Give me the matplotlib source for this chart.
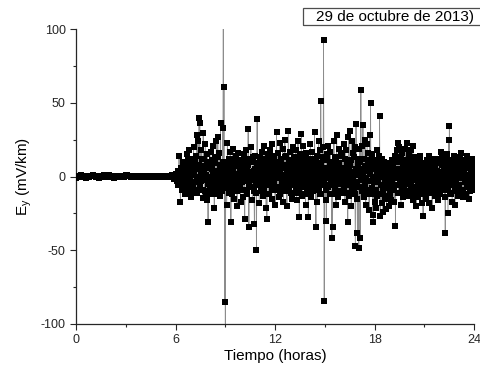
import numpy as np
import matplotlib
matplotlib.use("Agg")
import matplotlib.pyplot as plt
from matplotlib.patches import Rectangle
from matplotlib.ticker import MultipleLocator

plt.rcParams['font.family'] = ['Liberation Sans', 'DejaVu Sans']
plt.rcParams['axes.unicode_minus'] = False

# quiet interval 0-6 h, one sample every 0.1 h
quiet_ey = [-1.2, 0.4, -0.6, 0.8, -0.3, 0.5, -0.9, 0.2, -0.5, 0.7,
            1.1, 0.3, -0.4, 0.6, -0.8, 0.2, -0.2, 0.9, -0.6, 0.4,
            0.8, -0.3, 0.5, -0.7, 0.1, -0.4, 0.6, -0.2, 0.3, -0.6,
            0.9, 1.3, 0.4, -0.3, 0.2, -0.5, 0.3, -0.1, 0.5, -0.4,
            0.2, -0.6, 0.4, -0.2, 0.6, -0.3, 0.1, -0.5, 0.3, -0.2,
            0.4, -0.4, 0.2, -0.3, 0.5, -0.1, 0.3, -0.6, 0.8, -1.5, 1.0]

# disturbed interval: per hour, "c" samples (core) alternate with "h" samples,
# 48 samples per hour in total
c6 = [0, 1, -1, 2, -3, 1, -2, 4, 0, -4, 3, -1, 5, -5, 2, 6, -3, 0, 7, -6, 4, -2, 8, -7]
h6 = [2, -3, 4, -6, 14, 1, -17, 6, -9, 3, 10, -5, 8, -12, 4, 15, -8, 11, -4, 18, -10, 7, -14, 12]
c7 = [3, -8, 1, 10, -4, 6, -1, -11, 5, 0, 8, -6, 2, -3, 12, -9, 4, -2, 7, -12, 1, 9, -5, -1]
h7 = [-6, 20, -9, 9, 14, -11, 28, 24, 5, 40, 36.5, -8, 18, 3, -14.4, 29.5, 12, -10, 22, 6, -16, 15, -31, 8]
c8 = [-2, 6, -9, 0, 11, -5, 3, -1, 9, -12, 4, 2, -7, 13, -3, 1, 7, -10, 5, -2, 10, -6, 0, 3]
h8 = [10, -7, 17, -12, 5, 21, -4, -21, 13, -9, 24, 2, 27, -6, 16, -13, 36, 8, -10, 33, 140, 60.5, -85, -140]
c9 = [1, -6, 8, -2, 4, -11, 0, 10, -4, 3, -8, 6, -1, 12, -5, 2, -10, 7, -3, 0, 9, -7, 5, -2]
h9 = [6, -19.3, 22.5, -8, 12, -3, 17, -30.6, 4, -12, 19, 1, -15, 9, -6, 14, -20, 7, 16, -9, 3, -17, 11, -4]
c10 = [4, -3, 11, -9, 1, 6, -1, -12, 8, 2, -5, 0, 10, -7, 3, -2, 13, -10, 5, 1, -6, 9, -4, 0]
h10 = [8, -14, 15, -29, 2, 18, -10, 6, 32, -34, 12, -7, 20, -2, -16, 10, 4, -32.4, 14, -11, -49.6, 39, -5, 9]
c11 = [-5, 7, 2, -10, 0, 12, -3, 5, -8, 1, 9, -2, -12, 6, 3, -6, 11, -1, 4, -9, 0, 8, -4, 2]
h11 = [-18, 13, 3, -9, 17, -13, 7, 21, -6, 11, -21, -29, 15, 0, -12, 18, -4, 9, -15, 22, 5, -8, 14, -19]
c12 = [3, -1, -9, 8, 0, 5, -12, 2, 11, -4, 1, -7, 6, -2, 13, -10, 4, 0, -5, 9, -3, 7, -11, 1]
h12 = [10, 30, -7, 16, -14, 4, 23, -10, 12, -3, 19, -17, 8, 25, -6, 14, -20, 3, 31, -9, 17, -2, 11, -15]
c13 = [-2, 10, -6, 3, 0, -9, 7, 1, -4, 12, -11, 5, -1, 8, -7, 2, 11, -3, 0, -12, 6, 4, -8, 2]
h13 = [6, 20, -11, 13, -4, 18, -16, 9, 24, -8, -27.7, 15, 2, 29, -13, 7, 21, -5, 12, -19, 16, -1, 10, -27.7]
c14 = [0, 8, -3, -11, 5, 2, -7, 12, -1, 4, -9, 10, 1, -5, 7, -2, -12, 3, 9, -6, 0, 13, -4, 6]
h14 = [12, -6, 22, -14, 8, 17, -10, 4, 30, -3, -34.5, 14, -17, 9, 24, -8, 18, 51.4, -12, 6, 20, 92.5, -84.2, 11]
c15 = [2, -9, 11, -1, 6, -6, 0, 10, -3, 4, -12, 8, -2, 1, -7, 12, -4, 5, 0, -10, 9, -1, 3, -5]
h15 = [-16, -30, 15, -7, 21, 3, -12, 17, -5, -42, -34, 10, 24, -9, 13, -19, 28, 6, -14, 19, 1, -10, 16, -4]
c16 = [-3, 6, 0, -8, 12, -2, 4, -11, 9, 1, -5, 7, -1, 11, -9, 3, 0, -6, 13, -12, 5, 2, -4, 8]
h16 = [14, -11, 22, 5, -17, 18, -6, 11, -30.6, 26.6, -13, 30.8, 8, -20, 24, -3, 16, -9, 20, -47, 35.6, -15, -38.5, 12]
c17 = [1, -7, 10, -2, 5, -10, 3, 0, 12, -5, 7, -1, -9, 4, 11, -12, 2, 6, -3, 9, -8, 0, 8, -4]
h17 = [-48.7, 19, -41.5, 59, -8, 21, 35, -14, 12, 25, -19, 7, 22, -10, 16, -23, 28, 49.6, -12, 15, -26, -30.6, 11, -17]
c18 = [-1, 5, -9, 2, -4, 10, -12, 0, 7, -6, 3, -10, 1, 8, -3, -13, 4, 0, -7, 6, -2, -11, 9, -5]
h18 = [9, -21, 18, -13, 4, 14, 41, -27, 7, -18, 12, -24, 2, 10, -15, 6, -22, -8, 5, -20, 8, -12, 3, -16]
c19 = [2, -4, 9, -8, 0, 12, -6, 3, -1, 10, -11, 5, 1, -3, 13, -9, 6, -2, 8, -12, 0, 11, -5, 4]
h19 = [11, -9, 6, -17, 14, -33.3, 3, 18, 23, -11, 20, -5, 12, -19, 16, 2, -14, 9, -7, 19, -12, 23, 4, -10]
c20 = [-3, 7, 0, -10, 11, -2, 4, -7, 9, 1, -12, 6, -1, 10, -5, 2, -9, 12, 0, -4, 8, -11, 3, -2]
h20 = [15, -13, 8, 18, -6, 11, 20.7, -16, 5, -9, 13, -20, 2, 10, -14, 6, -11, 14, -7, 9, -18, -27, 4, -12]
c21 = [5, -8, 1, 10, -3, 0, -11, 7, 2, -6, 11, -1, 4, -10, 8, -2, 0, -7, 12, 3, -5, 9, -12, 1]
h21 = [7, -15, 11, -5, 9, -18, 14, 3, -10, 8, -21, 12, -3, 6, -13, 10, -8, 4, -16, 12, -6, 9, -11, 17]
c22 = [-1, 8, -5, 2, 11, -9, 0, -3, 12, -7, 5, 1, -11, 7, -2, 10, -6, 3, 0, -10, 9, -4, 6, -1]
h22 = [-4, 13, -9, 6, -14, -38.5, 10, -7, 15, -25, 25, 34, 2, -12, 11, -17, 8, -5, 14, -19, 6, -8, 12, -13]
c23 = [3, -6, 10, -1, 0, -9, 7, 2, -12, 5, -3, 11, 1, -7, 9, -4, 0, 12, -10, 4, -2, 8, -5, 1]
h23 = [9, -6, 13, -11, 15.7, 3, -9, -14, 11, -4, 8, -12, 14, 1, -7, 10, -15, 6, -3, 12, -9, 7, -5, 4]

x_ticks = [0, 6, 12, 18, 24]
y_ticks = [-100, -50, 0, 50, 100]
date_label = "29 de octubre de 2013)"

core = [c6, c7, c8, c9, c10, c11, c12, c13, c14, c15, c16, c17, c18, c19, c20, c21, c22, c23]
main = [h6, h7, h8, h9, h10, h11, h12, h13, h14, h15, h16, h17, h18, h19, h20, h21, h22, h23]
noisy_ey = []
for c, h in zip(core, main):
    for a, b in zip(c, h):
        noisy_ey += [a, b]

t_quiet = np.arange(len(quiet_ey)) * 0.1
t_noisy = 6 + np.arange(1, len(noisy_ey) + 1) / 48.0
t = np.concatenate([t_quiet, t_noisy])
ey = np.array(quiet_ey + noisy_ey, dtype=float)

fig = plt.figure(figsize=(4.81, 3.69), dpi=100)
ax = fig.add_axes([0.158, 0.122, 0.828, 0.799])

ax.plot(t, ey, color='0.55', lw=0.6, zorder=2)
ax.plot(t, ey, ls='none', marker='s', ms=4.3, mfc='black', mec='black', mew=0, zorder=3)

ax.set_xlim(0, 24)
ax.set_ylim(-100, 100)
ax.set_xticks(x_ticks)
ax.set_yticks(y_ticks)
ax.xaxis.set_minor_locator(MultipleLocator(3))
ax.yaxis.set_minor_locator(MultipleLocator(25))
ax.tick_params(which='major', direction='out', length=4, width=0.8, labelsize=9, colors='0.15')
ax.tick_params(which='minor', direction='out', length=2.5, width=0.8, colors='0.15')
for s in ['top', 'right']:
    ax.spines[s].set_visible(False)
for s in ['left', 'bottom']:
    ax.spines[s].set_linewidth(0.9)
    ax.spines[s].set_color('0.15')

ax.set_xlabel('Tiempo (horas)', fontsize=11)
ax.set_ylabel(r'E$_\mathregular{y}$ (mV/km)', fontsize=11)
ax.xaxis.set_label_coords(0.5, -0.085)
ax.yaxis.set_label_coords(-0.105, 0.5)

fig.patches.append(Rectangle((0.630, 0.933), 0.40, 0.045, transform=fig.transFigure,
                             fill=False, ec='0.3', lw=0.9))
fig.text(0.657, 0.955, date_label, fontsize=11, ha='left', va='center')

fig.savefig('out.png', dpi=100)
